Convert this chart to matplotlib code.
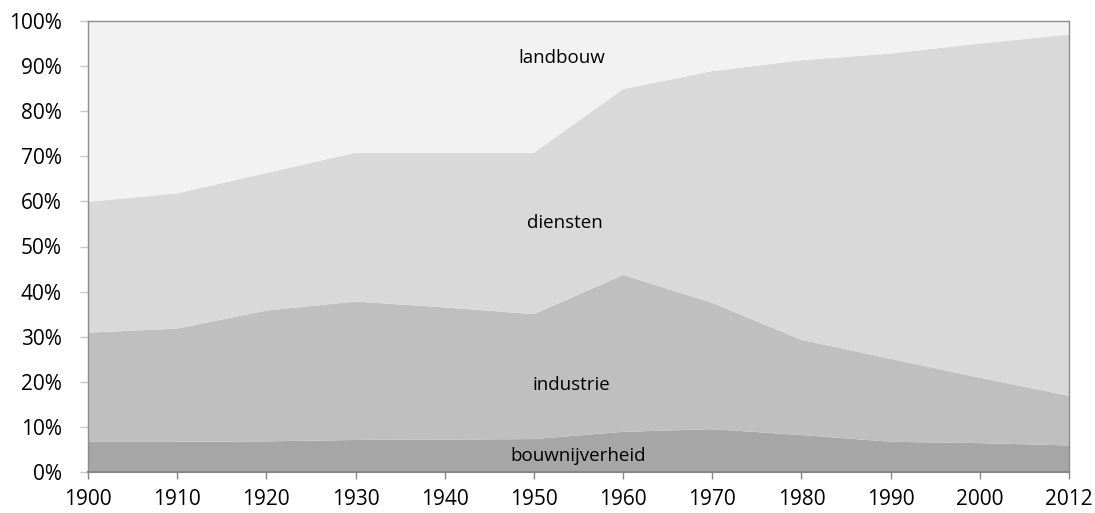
import matplotlib.pyplot as plt

plt.rcParams['font.family'] = ['Open Sans', 'DejaVu Sans']

# Data (shares in %, stacked bottom to top)
years = ["1900", "1910", "1920", "1930", "1940", "1950",
         "1960", "1970", "1980", "1990", "2000", "2012"]
bouwnijverheid = [6.7, 6.7, 6.8, 7.1, 7.2, 7.3, 8.9, 9.5, 8.2, 6.7, 6.4, 5.9]
industrie_top = [30.9, 31.8, 35.8, 37.8, 36.5, 35.0, 43.7, 37.5, 29.3, 25.1, 20.9, 16.9]
diensten_top = [59.9, 61.8, 66.3, 70.8, 70.8, 70.8, 84.9, 88.9, 91.3, 92.8, 95.0, 97.0]

industrie = [t - b for t, b in zip(industrie_top, bouwnijverheid)]
diensten = [t - b for t, b in zip(diensten_top, industrie_top)]
landbouw = [100 - t for t in diensten_top]

series_names = ["bouwnijverheid", "industrie", "diensten", "landbouw"]
colors = ["#a6a6a6", "#bfbfbf", "#d9d9d9", "#f2f2f2"]

fig = plt.figure(figsize=(10.95, 5.13), dpi=100)
ax = fig.add_axes([88 / 1095, 1 - 472 / 513, (1069 - 88) / 1095, (472 - 21) / 513])

x = range(len(years))
ax.stackplot(x, bouwnijverheid, industrie, diensten, landbouw,
             colors=colors, linewidth=0)

# Labels inside the areas
label_kw = dict(ha="center", va="center", fontsize=13.5, color="black")
ax.text(5.31, 91.8, "landbouw", **label_kw)
ax.text(5.35, 55.2, "diensten", **label_kw)
ax.text(5.42, 19.3, "industrie", **label_kw)
ax.text(5.5, 3.5, "bouwnijverheid", **label_kw)

ax.set_xlim(0, len(years) - 1)
ax.set_ylim(0, 100)
ax.set_xticks(list(x))
ax.set_xticklabels(years)
ax.set_yticks(range(0, 101, 10))
ax.set_yticklabels([f"{v}%" for v in range(0, 101, 10)])

for side in ["top", "right", "left"]:
    ax.spines[side].set_color("#8c8c8c")
    ax.spines[side].set_linewidth(1.0)
ax.spines["bottom"].set_color("#868686")
ax.spines["bottom"].set_linewidth(1.5)

ax.tick_params(axis="y", length=6, width=1, color="#c8c8c8", pad=13,
               labelsize=15, labelcolor="black")
ax.tick_params(axis="x", length=5, width=1, color="#868686", pad=7,
               labelsize=15, labelcolor="black")

fig.savefig("out.png", dpi=100)
